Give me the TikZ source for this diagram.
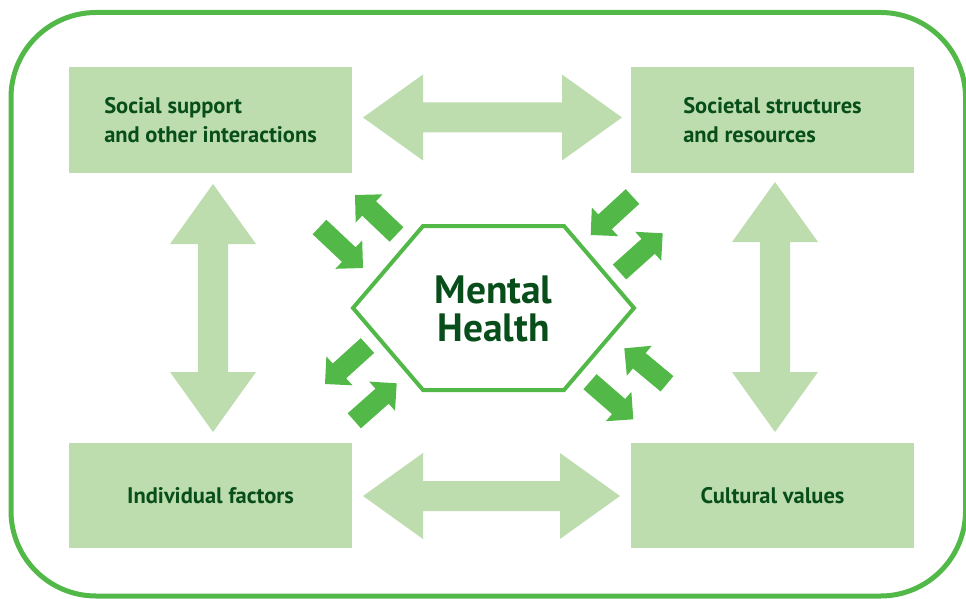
\documentclass[tikz,border=0pt]{standalone}
\usepackage{fontspec}
\setmainfont{PT Sans}
\usetikzlibrary{calc}
\definecolor{lightg}{RGB}{189,221,175}
\definecolor{midg}{RGB}{82,184,72}
\definecolor{darkg}{RGB}{8,78,26}
\tikzset{
  factorbox/.style={rectangle, fill=lightg, minimum width=283pt, minimum height=106pt,
    inner sep=0pt, text=darkg, align=left, font=\bfseries\fontsize{22.5}{29.5}\selectfont},
  bigarrow/.style={fill=lightg},
  smallarrow/.style={fill=midg},
  hexline/.style={draw=midg, line width=4pt, fill=white, line join=miter},
  border/.style={draw=midg, line width=5pt, rounded corners=85pt}
}
% single block arrow: name, tail, tip
\newcommand\blockarr[3]{%
  \coordinate (#1t) at (#2);
  \coordinate (#1p) at (#3);
  \coordinate (#1b) at ($(#1p)!19.5pt!(#1t)$);
  \fill[smallarrow] ($(#1t)!10pt!90:(#1p)$) -- ($(#1b)!10pt!90:(#1p)$) -- ($(#1b)!19.5pt!90:(#1p)$)
    -- (#1p) -- ($(#1b)!19.5pt!-90:(#1p)$) -- ($(#1b)!10pt!-90:(#1p)$) -- ($(#1t)!10pt!-90:(#1p)$) -- cycle;
}
% double block arrow: name, end A, end B
\newcommand\dblarr[3]{%
  \coordinate (#1A) at (#2);
  \coordinate (#1B) at (#3);
  \coordinate (#1a) at ($(#1A)!60pt!(#1B)$);
  \coordinate (#1b) at ($(#1B)!60pt!(#1A)$);
  \fill[bigarrow] (#1A) -- ($(#1a)!43pt!90:(#1B)$) -- ($(#1a)!15pt!90:(#1B)$) -- ($(#1b)!15pt!90:(#1B)$)
    -- ($(#1b)!43pt!90:(#1B)$) -- (#1B) -- ($(#1b)!43pt!-90:(#1B)$) -- ($(#1b)!15pt!-90:(#1B)$)
    -- ($(#1a)!15pt!-90:(#1B)$) -- ($(#1a)!43pt!-90:(#1B)$) -- cycle;
}
\begin{document}
\begin{tikzpicture}[x=1pt,y=-1pt]
\useasboundingbox (0,0) rectangle (966,599);
\draw[border] (11,12.5) rectangle (965.5,596);

\node[factorbox] (ss) at (210.5,120) {Social support\\and other interactions};
\node[factorbox] (sr) at (772.5,120) {Societal structures\\and resources};
\node[factorbox, minimum height=105pt] (if) at (210.5,495.5) {Individual factors};
\node[factorbox, minimum height=105pt] (cv) at (772.5,495.5) {Cultural values};

\dblarr{top}{363,117.5}{622,117.5}
\dblarr{bot}{363,496}{620,496}
\dblarr{lft}{213,184}{213,432}
\dblarr{rgt}{775,182}{775,432}

\coordinate (h1) at (353,308);
\coordinate (h2) at (423,226);
\coordinate (h3) at (564,226);
\coordinate (h4) at (634,308);
\coordinate (h5) at (564,390);
\coordinate (h6) at (423,390);
\path[hexline] (h1) -- (h2) -- (h3) -- (h4) -- (h5) -- (h6) -- cycle;
\node[text=darkg, align=center, font=\bfseries\fontsize{39.5}{38}\selectfont] (mh) at (493.5,309) {Mental\\Health};

\blockarr{aA}{396.5,234.5}{355,195}
\blockarr{aB}{319.5,227}{363,268}
\blockarr{aC}{632.5,196.5}{590.7,235}
\blockarr{aD}{619.5,272}{662.7,233.3}
\blockarr{aE}{367.5,345.5}{325,384}
\blockarr{aF}{354.3,420.8}{396.7,383.3}
\blockarr{aG}{667,383.8}{624.3,348.3}
\blockarr{aH}{590,381.7}{633.3,419.3}
\end{tikzpicture}
\end{document}
